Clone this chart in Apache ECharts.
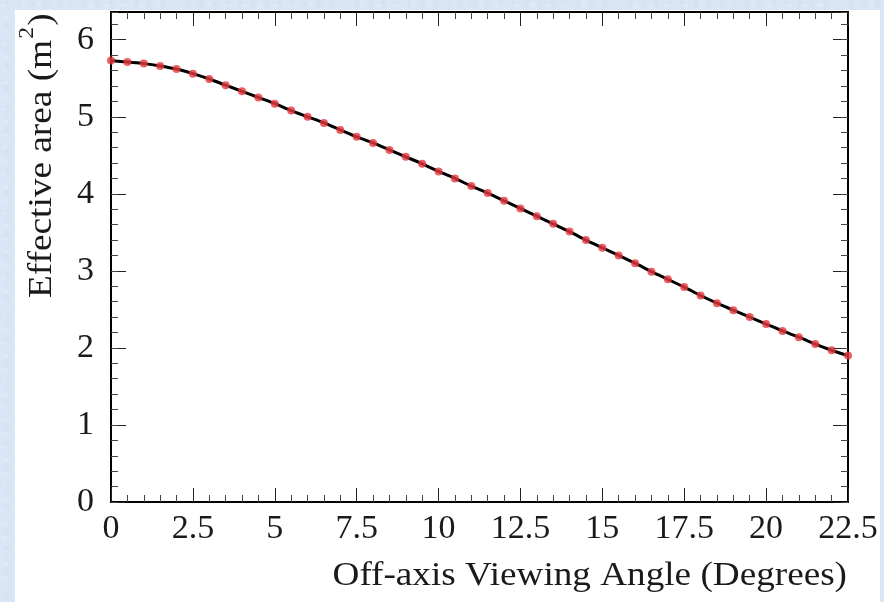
<!DOCTYPE html>
<html>
<head>
<meta charset="utf-8">
<script src="https://cdn.jsdelivr.net/npm/echarts@6/dist/echarts.min.js"></script>
<style>
  html, body { margin: 0; padding: 0; width: 884px; height: 602px; overflow: hidden; }
  body {
    background-color: #d9e6f5;
    background-image:
      radial-gradient(ellipse at 30% 40%, rgba(255,255,255,0.28) 0, transparent 4px),
      radial-gradient(ellipse at 70% 70%, rgba(255,255,255,0.22) 0, transparent 5px),
      radial-gradient(ellipse at 50% 20%, rgba(196,214,238,0.30) 0, transparent 4px);
    background-size: 17px 13px, 23px 19px, 13px 21px;
  }
  #panel { position: absolute; left: 15px; top: 10px; width: 865px; height: 592px; background: #ffffff; }
  #chart { position: absolute; left: 0; top: 0; width: 884px; height: 602px; }
</style>
</head>
<body>
<div id="panel"></div>
<div id="chart"></div>
<script>
// Off-axis angle (degrees) and effective area (m^2)
const angles = [
  0, 0.5, 1, 1.5, 2, 2.5, 3, 3.5, 4, 4.5,
  5, 5.5, 6, 6.5, 7, 7.5, 8, 8.5, 9, 9.5,
  10, 10.5, 11, 11.5, 12, 12.5, 13, 13.5, 14, 14.5,
  15, 15.5, 16, 16.5, 17, 17.5, 18, 18.5, 19, 19.5,
  20, 20.5, 21, 21.5, 22, 22.5
];
const area = [
  5.73, 5.71, 5.69, 5.66, 5.62, 5.56, 5.49, 5.41, 5.33, 5.25,
  5.17, 5.08, 5.00, 4.92, 4.83, 4.74, 4.66, 4.57, 4.48, 4.39,
  4.29, 4.20, 4.10, 4.01, 3.91, 3.81, 3.71, 3.61, 3.51, 3.40,
  3.30, 3.20, 3.10, 2.99, 2.89, 2.79, 2.68, 2.58, 2.49, 2.40,
  2.31, 2.22, 2.14, 2.05, 1.97, 1.90
];

const xTickValues = [0, 2.5, 5, 7.5, 10, 12.5, 15, 17.5, 20, 22.5];
const xTickLabels = ['0', '2.5', '5', '7.5', '10', '12.5', '15', '17.5', '20', '22.5'];
const yTickValues = [0, 1, 2, 3, 4, 5, 6];
const yTickLabels = ['0', '1', '2', '3', '4', '5', '6'];

const xTitle = 'Off-axis Viewing Angle (Degrees)';
const yTitleParts = ['Effective area (m', '2', ')'];

const serif = '"Liberation Serif", "DejaVu Serif", serif';
const ink = '#1a1a1a';
const points = angles.map((a, i) => [a, area[i]]);

function lookup(values, labels) {
  return v => {
    const i = values.findIndex(t => Math.abs(t - v) < 1e-6);
    return i < 0 ? '' : labels[i];
  };
}

// text widths for laying out the superscripted y title
const measureCtx = document.createElement('canvas').getContext('2d');
function textWidth(str, size) {
  measureCtx.font = size + 'px ' + serif;
  return measureCtx.measureText(str).width;
}

const frameLine = { show: true, onZero: false, lineStyle: { color: '#000', width: 2 } };
const labelStyle = { fontFamily: serif, fontSize: 34, color: ink };

function xAxis(position, withLabels) {
  return {
    type: 'value', position, min: 0, max: 22.5, interval: 2.5,
    axisLine: frameLine,
    axisTick: { show: true, inside: true, length: 14, lineStyle: { color: '#222', width: 1 } },
    minorTick: { show: true, splitNumber: 5, length: 7, lineStyle: { color: '#444', width: 1 } },
    splitLine: { show: false }, minorSplitLine: { show: false },
    axisLabel: withLabels
      ? Object.assign({ show: true, margin: 10, formatter: lookup(xTickValues, xTickLabels) }, labelStyle)
      : { show: false }
  };
}

function yAxisMajor(position, withLabels) {
  return {
    type: 'value', position, min: 0, max: 6.36, interval: 1,
    axisLine: frameLine,
    axisTick: { show: true, inside: true, length: 15, lineStyle: { color: '#222', width: 1 } },
    splitLine: { show: false },
    axisLabel: withLabels
      ? Object.assign({ show: true, margin: 17, showMaxLabel: false, formatter: lookup(yTickValues, yTickLabels) }, labelStyle)
      : { show: false }
  };
}

function yAxisMinor(position) {
  return {
    type: 'value', position, min: 0, max: 6.36, interval: 0.2,
    axisLine: frameLine,
    axisTick: { show: true, inside: true, length: 7, lineStyle: { color: '#444', width: 1 } },
    splitLine: { show: false },
    axisLabel: { show: false }
  };
}

// y title: main text, raised superscript, closing parenthesis
const titleSize = 33, supSize = 21;
const w1 = textWidth(yTitleParts[0], titleSize);
const w2 = textWidth(yTitleParts[1], supSize);
const mid = 0.3375; // em distance from baseline up to the middle line
const yTitleChildren = [
  { type: 'text', x: 0, y: -mid * titleSize,
    style: { text: yTitleParts[0], font: titleSize + 'px ' + serif, fill: ink, align: 'left', verticalAlign: 'middle' } },
  { type: 'text', x: w1 + 1, y: -18 - mid * supSize,
    style: { text: yTitleParts[1], font: supSize + 'px ' + serif, fill: ink, align: 'left', verticalAlign: 'middle' } },
  { type: 'text', x: w1 + w2 + 2, y: -mid * titleSize,
    style: { text: yTitleParts[2], font: titleSize + 'px ' + serif, fill: ink, align: 'left', verticalAlign: 'middle' } }
];

const chart = echarts.init(document.getElementById('chart'), null, { renderer: 'canvas' });
chart.setOption({
  backgroundColor: 'transparent',
  animation: false,
  grid: { left: 111, right: 36, top: 12, bottom: 100, containLabel: false },
  xAxis: [xAxis('bottom', true), xAxis('top', false)],
  yAxis: [yAxisMajor('left', true), yAxisMinor('left'), yAxisMajor('right', false), yAxisMinor('right')],
  graphic: [
    {
      type: 'text', x: 847, y: 587 - mid * titleSize, scaleX: 1.127, z: 10,
      style: { text: xTitle, font: titleSize + 'px ' + serif, fill: ink, align: 'right', verticalAlign: 'middle' }
    },
    {
      type: 'group', x: 53, y: 298, rotation: Math.PI / 2, scaleX: 1.13, z: 10,
      children: yTitleChildren
    }
  ],
  series: [
    {
      type: 'line', xAxisIndex: 0, yAxisIndex: 0, data: points,
      smooth: 0.3, showSymbol: false, silent: true,
      lineStyle: { color: '#000', width: 3 }, z: 2
    },
    {
      type: 'scatter', xAxisIndex: 0, yAxisIndex: 0, data: points,
      symbol: 'circle', symbolSize: 8, silent: true,
      itemStyle: { color: '#e6383e' }, z: 3
    }
  ]
});
</script>
</body>
</html>
